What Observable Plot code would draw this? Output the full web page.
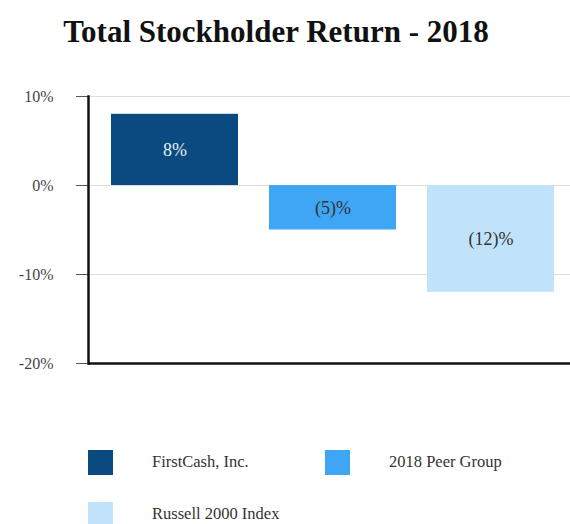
<!DOCTYPE html>
<html>
<head>
<meta charset="utf-8">
<script src="https://cdn.jsdelivr.net/npm/d3@7"></script>
<script src="https://cdn.jsdelivr.net/npm/@observablehq/plot@0.6"></script>
<style>
  body { margin: 0; background: #fff; font-family: "Liberation Serif", "Times New Roman", serif; }
  #wrap { position: relative; width: 570px; height: 524px; overflow: hidden; }
  #title { position: absolute; left: 0; top: 14px; width: 552px; text-align: center; font-weight: bold; font-size: 31px; color: #111; }
  #chart { position: absolute; left: 0; top: 70px; }
  .lg { position: absolute; font-size: 16.5px; line-height: 1; color: #333; display: flex; align-items: center; }
  .sw { width: 25px; height: 25px; margin-right: 39px; }
</style>
</head>
<body>
<div id="wrap">
  <div id="title">Total Stockholder Return - 2018</div>
  <div id="chart"></div>
  <div id="legend"></div>
</div>
<script>
const categories = ["FirstCash, Inc.", "2018 Peer Group", "Russell 2000 Index"];
const values = [8, -5, -12];
const labels = ["8%", "(5)%", "(12)%"];
const colors = ["#0A4A80", "#3EA6F5", "#C0E2FA"];
const labelColors = ["#e8eef5", "#333333", "#333333"];
const yTicks = [-20, -10, 0, 10];
const gridTicks = [-10, 0, 10];

const data = categories.map((c, i) => ({cat: c, value: values[i], label: labels[i], color: colors[i], lc: labelColors[i]}));

const chart = Plot.plot({
  width: 570,
  height: 310,
  marginTop: 26,
  marginBottom: 17,
  marginLeft: 88,
  marginRight: 0,
  style: {fontFamily: "'Liberation Serif', 'Times New Roman', serif", fontSize: "16px", color: "#333"},
  x: {domain: categories, padding: 0.196, paddingOuter: 0.123, align: 0.6, axis: null},
  y: {domain: [-20, 10], axis: null},
  marks: [
    Plot.ruleY(gridTicks, {stroke: "#dddddd", strokeWidth: 1}),
    Plot.barY(data, {x: "cat", y: "value", fill: "color"}),
    Plot.text(data, {x: "cat", y: d => d.value / 2, text: "label", fill: "lc", fontSize: 18}),
    Plot.axisY(yTicks, {label: null, tickSize: 12, tickPadding: 23, tickFormat: d => d + "%", stroke: "#555", fill: "#444", fontSize: 16}),
    Plot.frame({anchor: "left", stroke: "#111", strokeWidth: 2.5}),
    Plot.ruleY([-20], {stroke: "#111", strokeWidth: 2.5})
  ]
});
document.getElementById("chart").appendChild(chart);

const legendPos = [[88, 450], [325, 450], [88, 502]];
const legend = document.getElementById("legend");
categories.forEach((c, i) => {
  const d = document.createElement("div");
  d.className = "lg";
  d.style.left = legendPos[i][0] + "px";
  d.style.top = legendPos[i][1] + "px";
  d.innerHTML = `<span class="sw" style="background:${colors[i]}"></span><span>${c}</span>`;
  legend.appendChild(d);
});
</script>
</body>
</html>
